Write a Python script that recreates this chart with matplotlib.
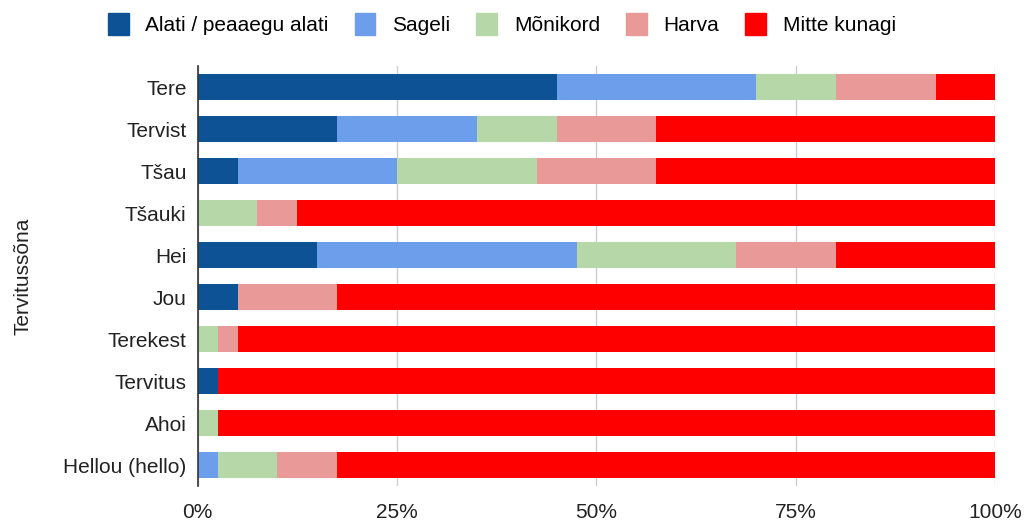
import matplotlib.pyplot as plt
import matplotlib.patches as mpatches
import numpy as np

plt.rcParams['font.family'] = ['Liberation Sans', 'DejaVu Sans']

# data (percent of respondents)
words = ["Tere", "Tervist", "Tšau", "Tšauki", "Hei", "Jou", "Terekest",
         "Tervitus", "Ahoi", "Hellou (hello)"]
alati = [45.0, 17.5, 5.0, 0.0, 15.0, 5.0, 0.0, 2.5, 0.0, 0.0]
sageli = [25.0, 17.5, 20.0, 0.0, 32.5, 0.0, 0.0, 0.0, 0.0, 2.5]
monikord = [10.0, 10.0, 17.5, 7.5, 20.0, 0.0, 2.5, 0.0, 2.5, 7.5]
harva = [12.5, 12.5, 15.0, 5.0, 12.5, 12.5, 2.5, 0.0, 0.0, 7.5]
mitte = [7.5, 42.5, 42.5, 87.5, 20.0, 82.5, 95.0, 97.5, 97.5, 82.5]

series = [alati, sageli, monikord, harva, mitte]
labels = ["Alati / peaaegu alati", "Sageli", "Mõnikord", "Harva", "Mitte kunagi"]
colors = ["#0d5294", "#6d9eeb", "#b6d7a8", "#ea9999", "#ff0000"]

fig = plt.figure(figsize=(10.24, 5.25), dpi=100)
ax = fig.add_axes([0.193, 0.074, 0.779, 0.80])

y = np.arange(len(words))
left = np.zeros(len(words))
for vals, c, lab in zip(series, colors, labels):
    ax.barh(y, vals, left=left, height=0.62, color=c, label=lab, zorder=3)
    left += np.array(vals)

ax.set_ylim(len(words) - 0.5, -0.5)
ax.set_xlim(0, 100)
ax.set_yticks(y)
ax.set_yticklabels(words, fontsize=15, color="#222222")
ax.set_xticks([0, 25, 50, 75, 100])
ax.set_xticklabels(["0%", "25%", "50%", "75%", "100%"], fontsize=15, color="#222222")
ax.tick_params(length=0, pad=8)
ax.tick_params(axis='x', pad=12)
ax.grid(axis='x', color="#cccccc", lw=1, zorder=0)
for s in ['top', 'right', 'bottom']:
    ax.spines[s].set_visible(False)
ax.spines['left'].set_color("#333333")
ax.spines['left'].set_linewidth(1.2)
ax.spines['left'].set_zorder(4)
ax.set_ylabel("Tervitussõna", fontsize=15, color="#222222", labelpad=22)

handles = [mpatches.Patch(color=c, label=l) for c, l in zip(colors, labels)]
fig.legend(handles=handles, loc='upper center', bbox_to_anchor=(0.49, 1.01), ncol=5,
           frameon=False, fontsize=15, handlelength=1.0, handleheight=1.2,
           columnspacing=1.25, handletextpad=0.8)

fig.savefig("out.png", dpi=100)
